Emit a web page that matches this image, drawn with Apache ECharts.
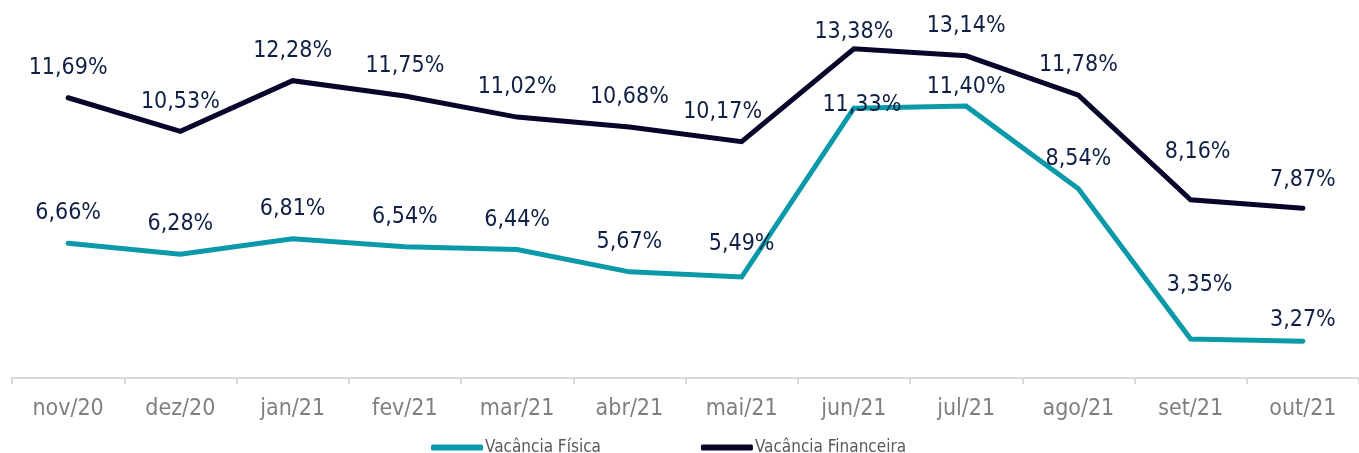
<!DOCTYPE html>
<html>
<head>
<meta charset="utf-8">
<script src="https://cdn.jsdelivr.net/npm/echarts@6/dist/echarts.min.js"></script>
<style>
html,body{margin:0;padding:0;background:#fff;}
#chart{width:1359px;height:453px;}
</style>
</head>
<body>
<div id="chart"></div>
<script>
// ---- data ----
var categories = ['nov/20','dez/20','jan/21','fev/21','mar/21','abr/21','mai/21','jun/21','jul/21','ago/21','set/21','out/21'];
var vacanciaFisica = [6.66, 6.28, 6.81, 6.54, 6.44, 5.67, 5.49, 11.33, 11.40, 8.54, 3.35, 3.27];
var vacanciaFinanceira = [11.69, 10.53, 12.28, 11.75, 11.02, 10.68, 10.17, 13.38, 13.14, 11.78, 8.16, 7.87];
var seriesNames = ['Vacância Física', 'Vacância Financeira'];

// ---- styling: manual label nudges (px) as placed in the original ----
var labelNudgeFisica = {6: [0, -3], 7: [8, 27], 8: [0, 11], 10: [9, -24], 11: [0, 9]};
var labelNudgeFinanceira = {6: [-19, 0], 7: [0, 13], 10: [7, -18], 11: [0, 2]};

var chart = echarts.init(document.getElementById('chart'), null, {renderer: 'canvas'});
var FONT = '"DejaVu Sans Condensed", "DejaVu Sans", sans-serif';
function fmt(p){ return Number(p.value).toFixed(2).replace('.', ',') + '%'; }
function mkSeries(name, data, color, nudge){
  return {
    name: name,
    type: 'line',
    data: data,
    symbol: 'circle',
    symbolSize: 0.5,
    showSymbol: true,
    showAllSymbol: true,
    lineStyle: {color: color, width: 5, cap: 'round', join: 'miter'},
    itemStyle: {color: color},
    label: {
      show: true, position: 'top', distance: 18,
      formatter: fmt,
      color: '#0f1f45', fontFamily: FONT, fontSize: 23
    },
    labelLayout: function(params){
      var n = nudge[params.dataIndex];
      return n ? {dx: n[0], dy: n[1], hideOverlap: false} : {hideOverlap: false};
    },
    animation: false
  };
}
chart.setOption({
  animation: false,
  grid: {left: 12, top: 2, width: 1351, height: 376, containLabel: false},
  legend: {
    data: seriesNames,
    left: 426, top: 434,
    itemWidth: 52, itemHeight: 6, itemGap: 100,
    icon: 'roundRect',
    textStyle: {color: '#595959', fontFamily: FONT, fontSize: 17, padding: [0,0,0,-3]}
  },
  xAxis: {
    type: 'category', data: categories, boundaryGap: true,
    axisLine: {lineStyle: {color: '#d9d9d9', width: 2}},
    axisTick: {show: true, length: 6, lineStyle: {color: '#d9d9d9', width: 2}},
    axisLabel: {color: '#7f7f7f', fontFamily: FONT, fontSize: 23, margin: 20}
  },
  yAxis: {
    type: 'value', min: 2, max: 15, show: false,
    splitLine: {show: false}
  },
  series: [
    mkSeries(seriesNames[0], vacanciaFisica, '#0a99a9', labelNudgeFisica),
    mkSeries(seriesNames[1], vacanciaFinanceira, '#08052b', labelNudgeFinanceira)
  ]
});
</script>
</body>
</html>
